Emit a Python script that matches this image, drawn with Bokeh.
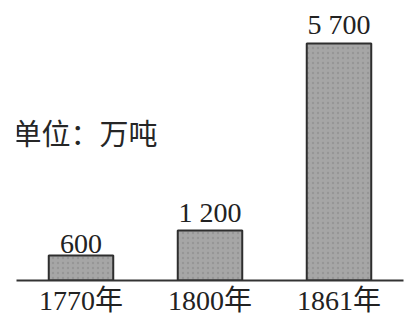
from bokeh.plotting import figure
from bokeh.models import FactorRange, Range1d, ColumnDataSource, Label
from bokeh.core.properties import value
from bokeh.embed import file_html
from bokeh.resources import INLINE

years = ["1770年", "1800年", "1861年"]
output = [600, 1200, 5700]
unit_text = "单位：万吨"

labels = [f"{v:,}".replace(",", " ") for v in output]
src = ColumnDataSource(dict(x=years, top=output, label=labels))

SERIF = "Liberation Serif, Noto Sans CJK SC"

p = figure(frame_width=387, frame_height=280, output_backend="svg", toolbar_location=None,
           x_range=FactorRange(factors=years, range_padding=0),
           y_range=Range1d(0, 6734),
           min_border_left=16, min_border_right=1, min_border_top=0, min_border_bottom=0)
p.outline_line_color = None
p.xgrid.visible = False
p.ygrid.visible = False
p.yaxis.visible = False
p.background_fill_color = "white"
p.border_fill_color = "white"

p.vbar(x="x", top="top", width=0.5, source=src,
       fill_color="#a6a6a6", line_color="#2e2e2e", line_width=2,
       hatch_pattern="dot", hatch_color="#8a8a8a", hatch_scale=5, hatch_alpha=0.6)

p.text(x="x", y="top", text="label", source=src, text_align="center",
       text_baseline="bottom", y_offset=-3,
       text_font=value(SERIF), text_font_size="28px", text_color="#222222")

unit = Label(x=-4, y=3583, x_units="screen", y_units="data", text=unit_text,
             text_align="left", text_baseline="middle",
             text_font="Noto Sans CJK SC", text_font_size="29px",
             text_color="#262626")
p.add_layout(unit)

ax = p.xaxis[0]
ax.axis_line_width = 2
ax.axis_line_color = "#333333"
ax.major_tick_line_color = None
ax.minor_tick_line_color = None
ax.major_label_text_font = SERIF
ax.major_label_text_font_size = "28px"
ax.major_label_text_color = "#222222"
ax.major_label_standoff = -2

open("out.html", "w").write(file_html(p, INLINE))
